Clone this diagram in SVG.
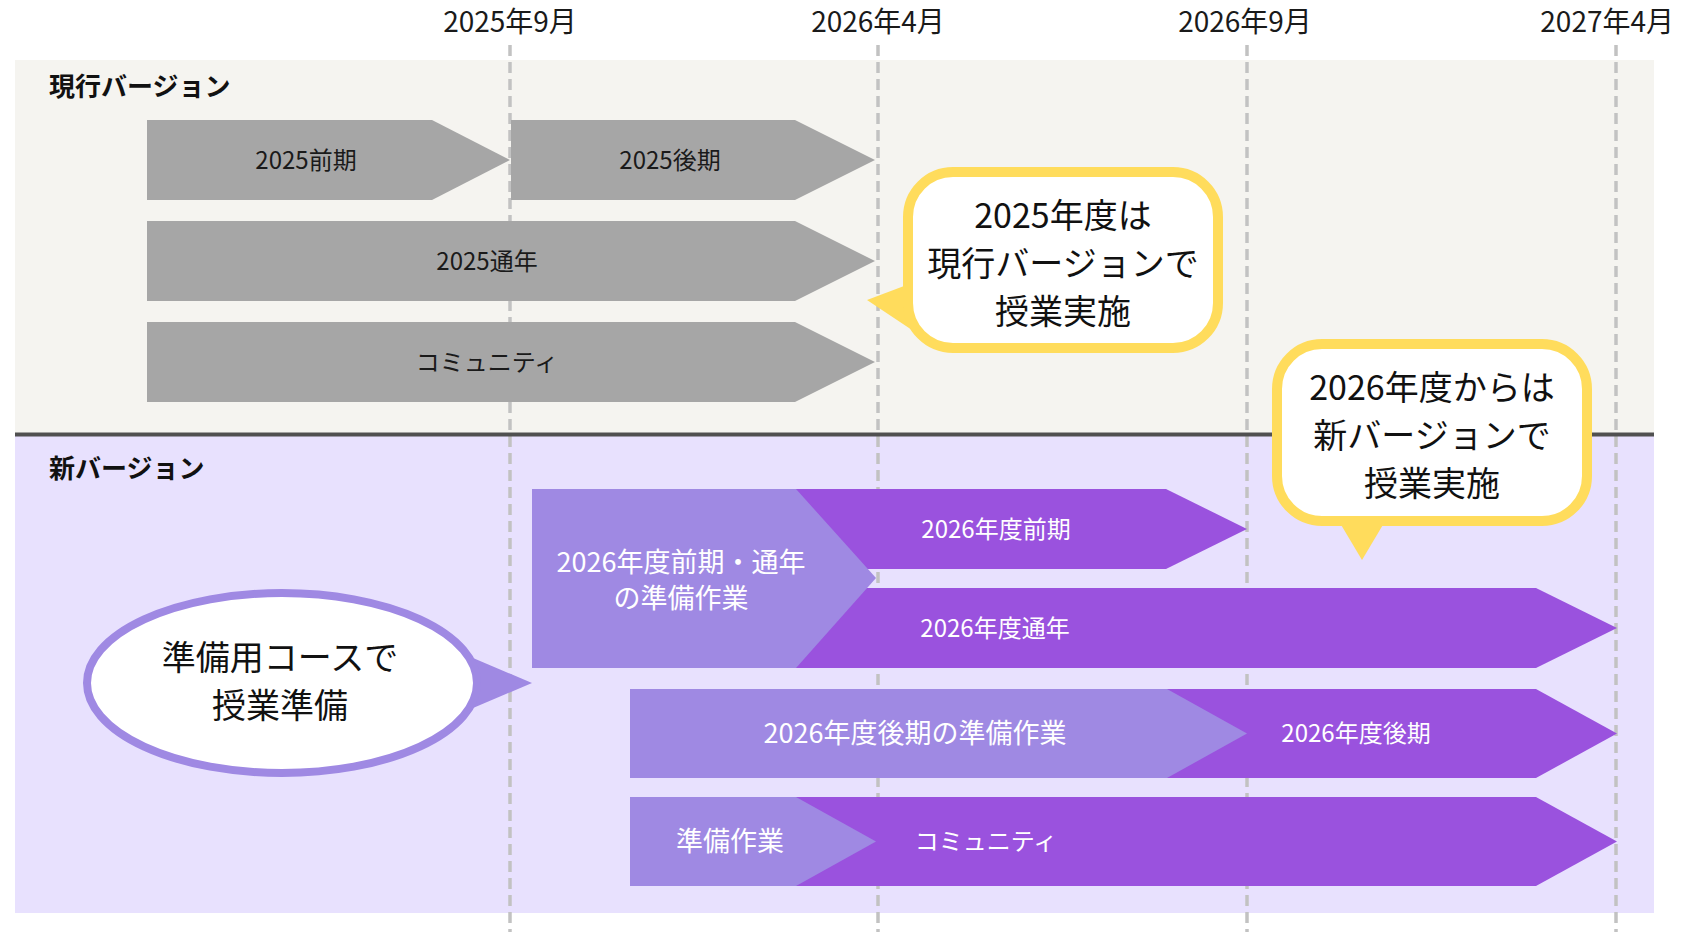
<svg xmlns="http://www.w3.org/2000/svg" width="1683" height="943" viewBox="0 0 1683 943">
<style>
text{font-family:"Noto Sans CJK JP","Noto Sans",sans-serif;text-anchor:middle;}
.date{font-size:28px;fill:#1a1a1a;}
.sec{font-size:26px;font-weight:bold;fill:#111;text-anchor:start;}
.gray{fill:#a6a6a6;}
.gt{font-size:24px;fill:#1a1a1a;}
.lp{fill:#9f89e3;}
.dp{fill:#9a52de;}
.wt{font-size:24px;fill:#fff;}
.wl{font-size:27px;fill:#fff;}
.grid{stroke:#c2c2c2;stroke-width:3.5;stroke-dasharray:11 6;fill:none;}
.callout{fill:#fff;stroke:#ffdc5c;stroke-width:10;}
.ct{font-size:34px;fill:#111;}
</style>
<rect width="1683" height="943" fill="#fff"/>
<g id="lanes">
<rect x="15" y="60" width="1639" height="374" fill="#f5f4f0"/>
<rect x="15" y="435" width="1639" height="478" fill="#e8e1fe"/>
</g>
<g id="gridlines">
<line class="grid" x1="510" y1="45" x2="510" y2="932"/>
<line class="grid" x1="878" y1="45" x2="878" y2="932"/>
<line class="grid" x1="1247" y1="45" x2="1247" y2="932"/>
<line class="grid" x1="1616" y1="45" x2="1616" y2="932"/>
</g>
<line id="separator" x1="15" y1="434.5" x2="1654" y2="434.5" stroke="#505050" stroke-width="4"/>
<g id="dates">
<text class="date" x="510" y="32">2025年9月</text>
<text class="date" x="878" y="32">2026年4月</text>
<text class="date" x="1245" y="32">2026年9月</text>
<text class="date" x="1674" y="32" style="text-anchor:end">2027年4月</text>
</g>
<g id="lane-current">
<text class="sec" x="49" y="96">現行バージョン</text>
</g>
<g id="lane-new">
<text class="sec" x="49" y="478">新バージョン</text>
</g>
<g id="bar-2025-first">
<polygon class="gray" points="147,120 432,120 510,160 432,200 147,200"/>
<text class="gt" x="306" y="169">2025前期</text>
</g>
<g id="bar-2025-second">
<polygon class="gray" points="511,120 795,120 875,160 795,200 511,200"/>
<text class="gt" x="670" y="169">2025後期</text>
</g>
<g id="bar-2025-year">
<polygon class="gray" points="147,221 795,221 875,261 795,301 147,301"/>
<text class="gt" x="487" y="270">2025通年</text>
</g>
<g id="bar-2025-community">
<polygon class="gray" points="147,322 795,322 875,362 795,402 147,402"/>
<text class="gt" x="487" y="371">コミュニティ</text>
</g>
<g id="bar-2026-first">
<polygon class="dp" points="780,489 1166,489 1247,529 1166,569 780,569"/>
<text class="wt" x="996" y="538">2026年度前期</text>
</g>
<g id="bar-2026-year">
<polygon class="dp" points="780,588 1536,588 1617,628 1536,668 780,668"/>
<text class="wt" x="995" y="637">2026年度通年</text>
</g>
<g id="prep-2026-first-year">
<polygon class="lp" points="532,489 796,489 876,578 796,668 532,668"/>
<text class="wl" x="681" y="572">2026年度前期・通年</text>
<text class="wl" x="681" y="608">の準備作業</text>
</g>
<g id="bar-2026-second">
<polygon class="dp" points="1150,689 1536,689 1617,733.5 1536,778 1150,778"/>
<text class="wt" x="1356" y="742">2026年度後期</text>
</g>
<g id="prep-2026-second">
<polygon class="lp" points="630,689 1167,689 1247,733.5 1167,778 630,778"/>
<text class="wl" x="915" y="743">2026年度後期の準備作業</text>
</g>
<g id="bar-2026-community">
<polygon class="dp" points="780,797 1536,797 1617,841.5 1536,886 780,886"/>
<text class="wt" x="986" y="850">コミュニティ</text>
</g>
<g id="prep-community">
<polygon class="lp" points="630,797 796,797 876,841.5 796,886 630,886"/>
<text class="wl" x="730" y="851">準備作業</text>
</g>
<g id="callout-2025">
<polygon points="912,283 867,300 918,334" fill="#ffdc5c"/>
<rect class="callout" x="908" y="172" width="310" height="176" rx="45" ry="45"/>
<text class="ct" x="1063" y="228">2025年度は</text>
<text class="ct" x="1063" y="276">現行バージョンで</text>
<text class="ct" x="1063" y="324">授業実施</text>
</g>
<g id="callout-2026">
<polygon points="1337,518 1362,560 1387,518" fill="#ffdc5c"/>
<rect class="callout" x="1277" y="344" width="310" height="177" rx="45" ry="45"/>
<text class="ct" x="1432" y="400">2026年度からは</text>
<text class="ct" x="1432" y="448">新バージョンで</text>
<text class="ct" x="1432" y="496">授業実施</text>
</g>
<g id="callout-prep">
<polygon points="466,655 532,683 466,711" fill="#9f89e3"/>
<ellipse cx="282" cy="683" rx="195" ry="90" fill="#fff" stroke="#9f89e3" stroke-width="8"/>
<text class="ct" x="280" y="670">準備用コースで</text>
<text class="ct" x="280" y="718">授業準備</text>
</g>
</svg>
